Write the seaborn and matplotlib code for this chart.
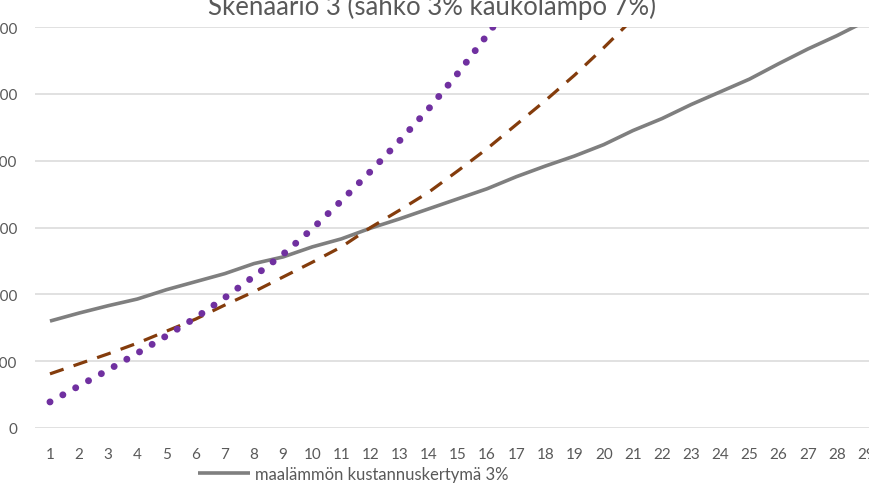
import matplotlib
matplotlib.use("Agg")
import matplotlib.pyplot as plt
import seaborn as sns

# vuodet 1..29
vuodet = list(range(1, 30))

# kustannuskertymät (euroa)
maalampo = [16000, 17200, 18300, 19300, 20700, 21900, 23100, 24600, 25600, 27100,
            28300, 29900, 31300, 32800, 34300, 35800, 37600, 39200, 40700, 42400,
            44500, 46300, 48400, 50300, 52200, 54500, 56700, 58700, 60900]
vuodet_sahko = list(range(1, 23))
sahko = [8100, 9600, 11100, 12700, 14500, 16300, 18400, 20400, 22600, 24800,
         27100, 30000, 32600, 35300, 38500, 41800, 45400, 49000, 52800, 56900,
         61200, 65800]
vuodet_kauko = list(range(1, 18))
kaukolampo = [3900, 6300, 8700, 11200, 13800, 16500, 19500, 22700, 26000, 29800,
              34000, 38400, 43000, 47800, 53100, 58800, 64800]

nimet = ["maalämmön kustannuskertymä 3%",
         "sähkölämmityksen kustannuskertymä 3%",
         "kaukolämmön kustannuskertymä 7%"]
y_ticks = [0, 10000, 20000, 30000, 40000, 50000, 60000]

sns.set_theme(style="white")
plt.rcParams["font.family"] = ["Lato", "DejaVu Sans"]

W, H = 869, 489
fig = plt.figure(figsize=(W / 100, H / 100), dpi=100)
ax = fig.add_axes([35.4 / W, (H - 429) / H, (880.6 - 35.4) / W, (429 - 28) / H])

sns.lineplot(x=vuodet, y=maalampo, ax=ax, color="#7f7f7f", linewidth=2.6,
             label=nimet[0], legend=False)
sns.lineplot(x=vuodet_sahko, y=sahko, ax=ax, color="#843c0c", linewidth=2.3,
             label=nimet[1], legend=False)
sns.lineplot(x=vuodet_kauko, y=kaukolampo, ax=ax, color="#7030a0", linewidth=5.0,
             label=nimet[2], legend=False)

viivat = ax.get_lines()
viivat[0].set_solid_capstyle("butt")
viivat[1].set_linestyle((0, (4.5, 3.3)))
viivat[1].set_dash_capstyle("butt")
viivat[2].set_linestyle((0, (0.01, 2.1)))
viivat[2].set_dash_capstyle("round")

ax.set_xlim(0.5, 29.5)
ax.set_ylim(0, 60000)
ax.set_xticks(vuodet)
ax.set_yticks(y_ticks)
ax.set_yticklabels([str(v) for v in y_ticks])
ax.grid(axis="y", color="#d9d9d9", linewidth=1.1)
ax.set_axisbelow(True)
for s in ax.spines.values():
    s.set_visible(False)
ax.tick_params(axis="both", length=0, labelsize=11, labelcolor="#595959")
ax.tick_params(axis="y", pad=13)
ax.tick_params(axis="x", pad=13.5)
ax.set_xlabel("")
ax.set_ylabel("")

fig.text(432 / W, (H - 15) / H, "Skenaario 3 (sähkö 3% kaukolämpö 7%)",
         ha="center", va="baseline", fontsize=18.5, color="#595959")

handles, labels = ax.get_legend_handles_labels()
fig.legend(handles, labels, loc="upper left", bbox_to_anchor=(198 / W, (H - 467) / H),
           ncol=1, frameon=False, fontsize=12, labelcolor="#595959",
           borderpad=0, borderaxespad=0, handlelength=3.1, handletextpad=0.3,
           labelspacing=1.4)

fig.savefig("out.png", dpi=100)
